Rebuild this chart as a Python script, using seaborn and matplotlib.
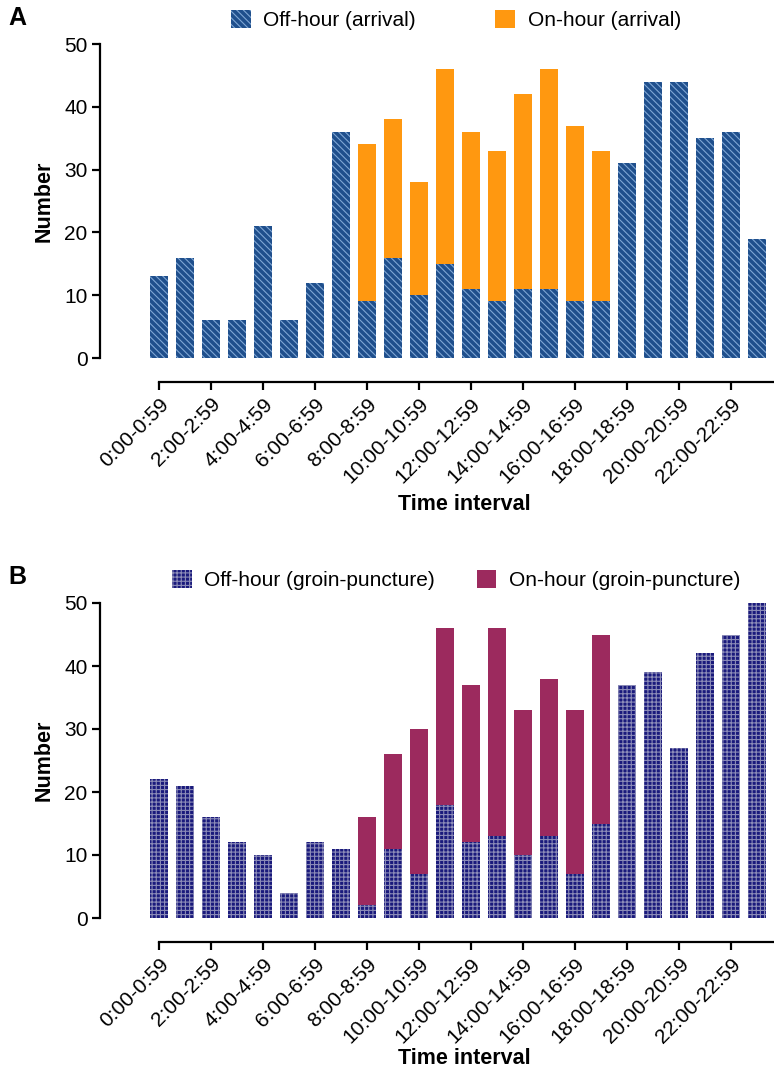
import numpy as np
import pandas as pd
import matplotlib
matplotlib.use("Agg")
import matplotlib.pyplot as plt
import seaborn as sns

intervals = [f"{h}:00-{h}:59" for h in range(24)]

arrival_off = [13, 16, 6, 6, 21, 6, 12, 36, 9, 16, 10, 15, 11, 9, 11, 11, 9, 9, 31, 44, 44, 35, 36, 19]
arrival_on = [0, 0, 0, 0, 0, 0, 0, 0, 25, 22, 18, 31, 25, 24, 31, 35, 28, 24, 0, 0, 0, 0, 0, 0]

groin_off = [22, 21, 16, 12, 10, 4, 12, 11, 2, 11, 7, 18, 12, 13, 10, 13, 7, 15, 37, 39, 27, 42, 45, 50]
groin_on = [0, 0, 0, 0, 0, 0, 0, 0, 14, 15, 23, 28, 25, 33, 23, 25, 26, 30, 0, 0, 0, 0, 0, 0]

yticks = [0, 10, 20, 30, 40, 50]

sns.set_style("ticks")
plt.rcParams["font.family"] = ["Liberation Sans", "DejaVu Sans"]
plt.rcParams["hatch.linewidth"] = 0.8
plt.rcParams["text.color"] = "black"
plt.rcParams["axes.labelcolor"] = "black"
plt.rcParams["xtick.color"] = "black"
plt.rcParams["ytick.color"] = "black"

W, H = 774, 1070
fig = plt.figure(figsize=(W / 100, H / 100), dpi=100)

TICK_FS = 15
LAB_FS = 15.5
LEG_FS = 15


def make_panel(rect, off, on, off_color, hatch_color, hatch, on_color,
               off_label, on_label, leg_y, xlab_y, colsp):
    ax = fig.add_axes(rect)
    df = pd.DataFrame({"interval": intervals,
                       "off": off,
                       "on": on})
    df["total"] = np.where(df["on"] > 0, df["off"] + df["on"], 0)
    sns.barplot(data=df, x="interval", y="total", color=on_color, saturation=1,
                width=0.69, linewidth=0, ax=ax, label=on_label)
    sns.barplot(data=df, x="interval", y="off", color=off_color, saturation=1,
                width=0.69, linewidth=0, edgecolor=hatch_color, hatch=hatch,
                ax=ax, label=off_label)
    for s in ["top", "right"]:
        ax.spines[s].set_visible(False)
    for s in ["left", "bottom"]:
        ax.spines[s].set_linewidth(1.6)
        ax.spines[s].set_color("black")
    ax.spines["bottom"].set_position(("outward", 17.3))
    ax.spines["bottom"].set_bounds(0, 23.62)
    ax.tick_params(axis="both", direction="out", length=6, width=1.6, color="black",
                   labelcolor="black", pad=3)
    ax.set_ylim(0, 50)
    ax.set_xlim(-2.27, 23.62)
    ax.set_yticks(yticks)
    ax.set_yticklabels([str(t) for t in yticks], fontsize=TICK_FS)
    ax.set_xticks(range(0, 24, 2))
    ax.set_xticklabels([intervals[i] for i in range(0, 24, 2)])
    for lab in ax.get_xticklabels():
        lab.set_rotation(45)
        lab.set_ha("right")
        lab.set_va("top")
        lab.set_rotation_mode("anchor")
        lab.set_fontsize(TICK_FS)
    ax.set_xlabel("Time interval", fontsize=LAB_FS, fontweight="bold", color="black")
    ax.set_ylabel("Number", fontsize=LAB_FS, fontweight="bold", color="black")
    ax.xaxis.set_label_coords(0.542, xlab_y)
    ax.yaxis.set_label_coords(-0.068, 0.5)
    handles, labels = ax.get_legend_handles_labels()
    order = [labels.index(off_label), labels.index(on_label)]
    ax.legend([handles[i] for i in order], [labels[i] for i in order],
              loc="center", bbox_to_anchor=(0.529, leg_y), ncol=2, frameon=False,
              fontsize=LEG_FS, handlelength=0.95, handleheight=0.95,
              handletextpad=0.6, columnspacing=colsp, labelcolor="black")
    return ax

axA = make_panel([100 / W, 1 - 358 / H, 673 / W, 314 / H],
                 arrival_off, arrival_on, "#1f4f8c", "#7fa6d4", "\\\\\\\\\\",
                 "#ff9810", "Off-hour (arrival)", "On-hour (arrival)",
                 1.076, -0.433, 3.8)
axB = make_panel([100 / W, 1 - 918 / H, 673 / W, 315 / H],
                 groin_off, groin_on, "#1a1a7c", "#8c8cb8", "++++",
                 "#9c2a5e", "Off-hour (groin-puncture)", "On-hour (groin-puncture)",
                 1.073, -0.413, 2.0)

fig.text(8 / W, 1 - 6 / H, "A", fontsize=18, fontweight="bold", va="top", ha="left",
         color="black")
fig.text(8 / W, 1 - 565 / H, "B", fontsize=18, fontweight="bold", va="top", ha="left",
         color="black")

fig.savefig("out.png", dpi=100)
